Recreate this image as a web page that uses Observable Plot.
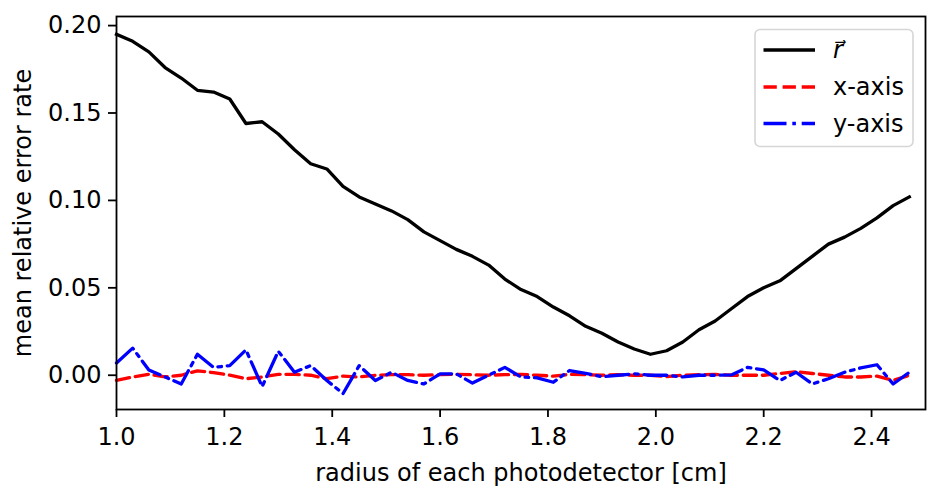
<!DOCTYPE html>
<html>
<head>
<meta charset="utf-8">
<script src="https://cdn.jsdelivr.net/npm/d3@7"></script>
<script src="https://cdn.jsdelivr.net/npm/@observablehq/plot@0.6"></script>
<style>
  html, body { margin: 0; padding: 0; background: #fff; }
  #wrap { position: relative; width: 928px; height: 487px; font-family: "DejaVu Sans", sans-serif; }
  #legend { position: absolute; left: 0; top: 0; pointer-events: none; }
</style>
</head>
<body>
<div id="wrap"></div>
<script>
// radius of each photodetector [cm]
const radius = [1.00,1.03,1.06,1.09,1.12,1.15,1.18,1.21,1.24,1.27,
                1.30,1.33,1.36,1.39,1.42,1.45,1.48,1.51,1.54,1.57,
                1.60,1.63,1.66,1.69,1.72,1.75,1.78,1.81,1.84,1.87,
                1.90,1.93,1.96,1.99,2.02,2.05,2.08,2.11,2.14,2.17,
                2.20,2.23,2.26,2.29,2.32,2.35,2.38,2.41,2.44,2.47];
// mean relative error rate of vector r
const errR = [0.195,0.191,0.185,0.176,0.170,0.163,0.162,0.158,0.144,0.145,
              0.138,0.129,0.121,0.118,0.108,0.102,0.098,0.094,0.089,0.082,
              0.077,0.072,0.068,0.063,0.055,0.049,0.045,0.039,0.034,0.028,
              0.024,0.019,0.015,0.012,0.014,0.019,0.026,0.031,0.038,0.045,
              0.050,0.054,0.061,0.068,0.075,0.079,0.084,0.090,0.097,0.102];
// x-axis component
const errX = [-0.003,-0.001,0.0005,-0.001,0.0,0.0025,0.0015,0.0,-0.002,-0.001,
              0.0005,0.0005,0.0,-0.002,-0.0005,-0.001,0.0,0.0003,0.0003,0.0,
              0.0003,0.0005,0.0003,0.0,0.0003,0.0005,0.0,-0.0005,0.0005,0.0003,
              0.0,0.0003,0.0,0.0,-0.0008,0.0,0.0003,0.0005,0.0,0.0,
              0.0,0.001,0.002,0.001,0.0,-0.001,-0.001,-0.0005,-0.003,0.0];
// y-axis component
const errY = [0.007,0.0155,0.003,-0.001,-0.005,0.012,0.0045,0.0055,0.0145,-0.0065,
              0.0137,0.0017,0.0055,-0.003,-0.0105,0.0055,-0.003,0.0017,-0.003,-0.005,
              0.0008,0.0008,-0.0045,0.0,0.0045,-0.001,-0.0015,-0.004,0.0027,0.0011,
              -0.0008,0.0,0.0008,0.0,0.0,-0.001,0.0,0.0,0.0002,0.0045,
              0.003,-0.003,0.0017,-0.005,-0.002,0.0017,0.0042,0.006,-0.005,0.0017];

const xTicks = [1.0,1.2,1.4,1.6,1.8,2.0,2.2,2.4];
const yTicks = [0.00,0.05,0.10,0.15,0.20];

const seriesNames = ["r", "x-axis", "y-axis"];
const seriesColors = ["#000000", "#ff0000", "#0000ff"];
const seriesDash = [null, "13.3,5.8", "23,5.8,3.6,5.8"];

const rows = (vals) => radius.map((r, i) => ({r, v: vals[i]}));
const LW = 3.3;
const FS = 24;

const chart = Plot.plot({
  width: 928,
  height: 487,
  marginLeft: 116,
  marginRight: 3,
  marginTop: 16,
  marginBottom: 78,
  style: {fontFamily: "DejaVu Sans, sans-serif", fontSize: FS + "px", background: "white", color: "black"},
  x: {domain: [1.0, 2.5]},
  y: {domain: [-0.0196, 0.2052]},
  marks: [
    Plot.line(rows(errR), {x: "r", y: "v", stroke: seriesColors[0], strokeWidth: LW, strokeLinejoin: "round", strokeLinecap: "square"}),
    Plot.line(rows(errX), {x: "r", y: "v", stroke: seriesColors[1], strokeWidth: LW, strokeLinejoin: "round", strokeDasharray: seriesDash[1]}),
    Plot.line(rows(errY), {x: "r", y: "v", stroke: seriesColors[2], strokeWidth: LW, strokeLinejoin: "round", strokeDasharray: seriesDash[2]}),
    Plot.frame({stroke: "black", strokeWidth: 1.8}),
    Plot.axisX({ticks: xTicks, tickFormat: d3.format(".1f"), tickSize: 8, tickPadding: 10, strokeWidth: 1.8,
      fontSize: FS, label: "radius of each photodetector [cm]", labelAnchor: "center", labelArrow: "none", labelOffset: 71}),
    Plot.axisY({ticks: yTicks, tickFormat: d3.format(".2f"), tickSize: 8, tickPadding: 7, strokeWidth: 1.8,
      fontSize: FS, label: "mean relative error rate", labelAnchor: "center", labelArrow: "none", labelOffset: 103})
  ]
});

const wrap = document.getElementById("wrap");
wrap.appendChild(chart);

// legend overlay
const lg = d3.select(wrap).append("svg")
  .attr("id", "legend").attr("width", 928).attr("height", 487)
  .style("font-family", "DejaVu Sans, sans-serif").style("font-size", FS + "px");
lg.append("rect").attr("x", 755).attr("y", 29.5).attr("width", 158).attr("height", 117)
  .attr("rx", 5).attr("fill", "rgba(255,255,255,0.8)").attr("stroke", "#d6d6d6").attr("stroke-width", 1.6);
const rowY = [50, 87, 123.5];
seriesNames.forEach((name, i) => {
  lg.append("line").attr("x1", 763.5).attr("x2", 815).attr("y1", rowY[i]).attr("y2", rowY[i])
    .attr("stroke", seriesColors[i]).attr("stroke-width", LW)
    .attr("stroke-dasharray", seriesDash[i]);
  const t = lg.append("text").attr("x", 833).attr("y", rowY[i]).attr("dy", "0.35em").attr("fill", "black");
  if (i === 0) {
    t.append("tspan").attr("font-style", "italic").text("r\u20D7");
  } else {
    t.text(name);
  }
});
</script>
</body>
</html>
